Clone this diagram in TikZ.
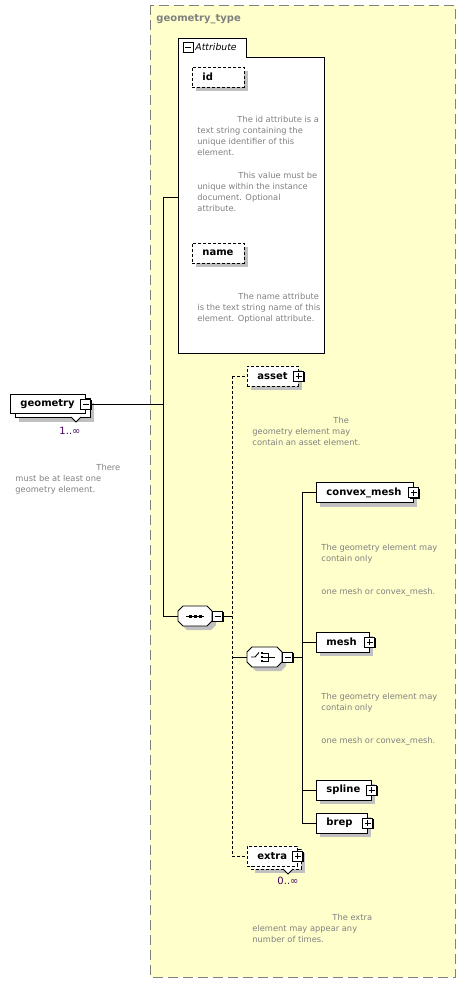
\documentclass[tikz,border=0pt]{standalone}
\usepackage{fontspec}
\setmainfont{DejaVu Sans}
\usetikzlibrary{positioning, shadows}
\definecolor{paper}{RGB}{255,255,204}
\definecolor{docgray}{RGB}{128,128,128}
\definecolor{occur}{RGB}{64,0,96}
\definecolor{shadegray}{RGB}{192,192,192}

% octagon of a compositor: x1 y1 x2 y2
\newcommand{\octbox}[4]{%
  \fill[shadegray] (#1+9,#2+4) -- (#3-1,#2+4) -- (#3+4,#2+9) -- (#3+4,#4-1) -- (#3-1,#4+4)
    -- (#1+9,#4+4) -- (#1+4,#4-1) -- (#1+4,#2+9) -- cycle;
  \draw[fill=white] (#1+5,#2) -- (#3-5,#2) -- (#3,#2+5) -- (#3,#4-5) -- (#3-5,#4)
    -- (#1+5,#4) -- (#1,#4-5) -- (#1,#2+5) -- cycle;}

\tikzset{
  dropgray/.style={drop shadow={shadow xshift=4pt, shadow yshift=-4pt, fill=shadegray, opacity=1}},
  blackedge/.style={drop shadow={shadow xshift=1pt, shadow yshift=-1pt, fill=black, opacity=1}},
  elem/.style={draw, fill=white, anchor=west, minimum height=20pt, text width=#1,
    inner xsep=10pt, align=left, font=\fontsize{10}{12}\selectfont\bfseries},
  optelem/.style={elem=#1, dash pattern=on 3pt off 2pt},
  minusbox/.style={draw, fill=white, minimum size=10pt, inner sep=0pt,
    path picture={\draw ([xshift=-3pt]path picture bounding box.center) -- ([xshift=3pt]path picture bounding box.center);}},
  plusbox/.style={draw, fill=white, minimum size=10pt, inner sep=0pt, blackedge,
    path picture={\draw ([xshift=-3pt]path picture bounding box.center) -- ([xshift=3pt]path picture bounding box.center);
      \draw ([yshift=-3pt]path picture bounding box.center) -- ([yshift=3pt]path picture bounding box.center);}},
  compositor/.style={rectangle, minimum height=20pt, inner sep=0pt},
  docnote/.style={anchor=north west, align=left, inner sep=0pt, text=docgray,
    font=\fontsize{8.3}{11}\selectfont},
  occurs/.style={text=occur, inner sep=0pt, font=\fontsize{10}{12}\selectfont}
}

\begin{document}
\begin{tikzpicture}[x=1pt, y=-1pt, line width=0.9pt]
  \useasboundingbox (0,0) rectangle (465,984);

  % complex type frame
  \draw[draw=gray, fill=paper, dash pattern=on 10pt off 5pt] (150,5) rectangle (455,977);
  \node[anchor=west, inner sep=0pt, text=gray, font=\fontsize{10}{12}\selectfont\bfseries]
    (gt-title) at (156,19) {geometry\_type};

  % attribute group
  \draw[fill=white] (178,353) -- (178,38) -- (246,38) -- (246,57) -- (324,57) -- (324,353) -- cycle;
  \node[minusbox] (attr-minus) at (188,47.5) {};
  \node[anchor=west, inner sep=0pt, font=\fontsize{9.3}{11}\selectfont\itshape]
    (attr-title) at (195,47.5) {Attribute};
  \node[optelem=32pt, dropgray] (id) at (192,77) {id};
  \node[docnote] (id-doc) at (197,116)
    {\hspace*{40pt}The id attribute is a\\text string containing the\\unique identifier of this\\element.};
  \node[docnote] (id-doc2) at (197,172)
    {\hspace*{41pt}This value must be\\unique within the instance\\document. Optional\\attribute.};
  \node[optelem=32pt, dropgray] (name) at (192,253) {name};
  \node[docnote] (name-doc) at (197,293)
    {\hspace*{41pt}The name attribute\\is the text string name of this\\element. Optional attribute.};

  % root element
  \node[elem=55pt, minimum height=19pt, dropgray] (geometry-bk) at (15,408) {\phantom{geometry}};
  \node[elem=55pt, minimum height=19pt] (geometry) at (10,404) {geometry};
  \draw[fill=white] (71,417) -- (76,422) -- (81,417);
  \node[minusbox, blackedge] (geom-minus) at (geometry.east) {};
  \node[occurs] (geom-occ) at (70,431) {1..∞};
  \node[docnote] (geom-doc) at (15,464)
    {\hspace*{81pt}There\\must be at least one\\geometry element.};

  % sequence
  \octbox{178}{606}{212}{626}
  \node[compositor, minimum width=34pt] (seq) at (195,616) {};
  \draw (seq.center) ++(-9,0) -- ++(18,0);
  \foreach \dx in {-5,0,5}
    \fill (seq.center) ++(\dx,0) ++(-1.5,-1.5) rectangle ++(3,3);
  \node[minusbox, anchor=west, blackedge] (seq-minus) at (seq.east) {};

  % optional children
  \node[optelem=31pt, dropgray] (asset) at (247,376) {asset};
  \node[plusbox] (asset-plus) at (asset.east) {};
  \node[docnote] (asset-doc) at (252,417)
    {\hspace*{81pt}The\\geometry element may\\contain an asset element.};

  \node[optelem=30pt, dropgray] (extra-bk) at (251,859) {\phantom{extra}};
  \node[optelem=30pt] (extra) at (247,856) {extra};
  \draw[fill=white] (283,869) -- (288,874) -- (293,869);
  \node[plusbox] (extra-plus) at (extra.east) {};
  \node[occurs] (extra-occ) at (288,881) {0..∞};
  \node[docnote] (extra-doc) at (252,914)
    {\hspace*{80pt}The extra\\element may appear any\\number of times.};

  % choice
  \octbox{247}{647}{282}{667}
  \node[compositor, minimum width=35pt] (choice) at (264.5,657) {};
  \draw (251,657) -- (255,657) -- (259,652.5);
  \draw (263,653) -- (268,653) -- (268,661) -- (263,661);
  \draw (263,657) -- (275,657);
  \foreach \dy in {653,657,661}
    \fill (262,\dy) ++(-1.3,-1.3) rectangle ++(2.6,2.6);
  \node[minusbox, anchor=west, blackedge] (choice-minus) at (choice.east) {};

  % choice options
  \node[elem=77pt, dropgray] (cmesh) at (316,492.5) {convex\_mesh};
  \node[plusbox] (cmesh-plus) at (cmesh.east) {};
  \node[docnote] (cmesh-doc) at (321,544) {The geometry element may\\contain only};
  \node[docnote] (cmesh-doc2) at (321,588) {one mesh or convex\_mesh.};
  \node[elem=33pt, dropgray] (mesh) at (316,642) {mesh};
  \node[plusbox] (mesh-plus) at (mesh.east) {};
  \node[docnote] (mesh-doc) at (321,693) {The geometry element may\\contain only};
  \node[docnote] (mesh-doc2) at (321,737) {one mesh or convex\_mesh.};
  \node[elem=35pt, dropgray] (spline) at (316,790) {spline};
  \node[plusbox] (spline-plus) at (spline.east) {};
  \node[elem=31pt, dropgray] (brep) at (316,823) {brep};
  \node[plusbox] (brep-plus) at (brep.east) {};

  % connectors
  \coordinate (spine-g) at (163,404);
  \coordinate (spine-top) at (163,197);
  \coordinate (spine-bot) at (163,616);
  \coordinate (attr-w) at (178,197);
  \draw (geom-minus.east) -- (spine-g);
  \draw (spine-top) -- (spine-bot);
  \draw (spine-top) -- (attr-w);
  \draw (spine-bot) -- (seq.west);
  \coordinate (seq-out) at (232,616);
  \coordinate (seq-top) at (232,376);
  \coordinate (seq-end) at (232,856);
  \coordinate (ch-in) at (232,657);
  \draw (seq-minus.east) -- (seq-out);
  \draw[dash pattern=on 3pt off 2pt] (seq-top) -- (seq-end);
  \draw[dash pattern=on 3pt off 2pt] (seq-top) -- (asset.west);
  \draw[dash pattern=on 3pt off 2pt] (seq-end) -- (extra.west);
  \draw (ch-in) -- (choice.west);
  \coordinate (ch-out) at (302,657);
  \coordinate (ch-top) at (302,492.5);
  \coordinate (ch-mesh) at (302,642);
  \coordinate (ch-spline) at (302,790);
  \coordinate (ch-bot) at (302,823);
  \draw (choice-minus.east) -- (ch-out);
  \draw (ch-top) -- (ch-bot);
  \draw (ch-top) -- (cmesh.west);
  \draw (ch-mesh) -- (mesh.west);
  \draw (ch-spline) -- (spline.west);
  \draw (ch-bot) -- (brep.west);
\end{tikzpicture}
\end{document}
